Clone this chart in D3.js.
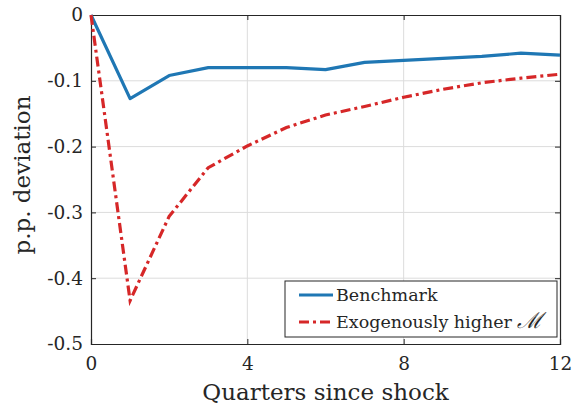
<!DOCTYPE html>
<html>
<head>
<meta charset="utf-8">
<script src="https://cdn.jsdelivr.net/npm/d3@7"></script>
<style>
  html, body { margin: 0; padding: 0; background: #fff; }
  svg { display: block; }
  text { font-family: "DejaVu Serif", serif; fill: #262626; }
</style>
</head>
<body>
<svg id="chart" width="573" height="406"></svg>
<script>
// Impulse responses, in percentage points, by quarter since the shock
const quarters = [0, 1, 2, 3, 4, 5, 6, 7, 8, 9, 10, 11, 12];
const benchmark = [0, -0.127, -0.092, -0.080, -0.080, -0.080, -0.083, -0.072, -0.069, -0.066, -0.063, -0.058, -0.061];
const higherM = [0, -0.434, -0.306, -0.232, -0.199, -0.171, -0.152, -0.139, -0.125, -0.113, -0.103, -0.096, -0.090];
const xTicks = [0, 4, 8, 12];
const yTicks = [0, -0.1, -0.2, -0.3, -0.4, -0.5];
const seriesNames = ["Benchmark", "Exogenously higher "];
const mathSymbol = "\u2133";

const svg = d3.select("#chart");
const plotL = 91, plotR = 560, plotT = 15, plotB = 344;
const x = d3.scaleLinear().domain([0, 12]).range([plotL, plotR]);
const y = d3.scaleLinear().domain([-0.5, 0]).range([plotB, plotT]);
const axisColor = "#262626";
const blue = "#1f77b4", red = "#d62728";
const dashDot = "10,4,3,4";
const fmtY = d => d === 0 ? "0" : d.toFixed(1);

// grid
const grid = svg.append("g");
grid.selectAll("line.gx").data(xTicks.slice(1, -1)).join("line")
  .attr("x1", d => x(d)).attr("x2", d => x(d)).attr("y1", plotT).attr("y2", plotB)
  .attr("stroke", "#dcdcdc").attr("stroke-width", 1);
grid.selectAll("line.gy").data(yTicks.slice(1, -1)).join("line")
  .attr("y1", d => y(d)).attr("y2", d => y(d)).attr("x1", plotL).attr("x2", plotR)
  .attr("stroke", "#dcdcdc").attr("stroke-width", 1);

// axes (ticks inside, on all four sides)
const tl = 5;
const bAxis = d3.axisBottom(x).tickValues(xTicks).tickSize(-tl).tickPadding(tl + 8).tickFormat(d3.format("d"));
const tAxis = d3.axisTop(x).tickValues(xTicks).tickSize(-tl).tickFormat("");
const lAxis = d3.axisLeft(y).tickValues(yTicks).tickSize(-tl).tickPadding(tl + 3).tickFormat(fmtY);
const rAxis = d3.axisRight(y).tickValues(yTicks).tickSize(-tl).tickFormat("");

function styleAxis(g) {
  g.attr("font-family", null);
  g.select(".domain").attr("stroke", axisColor).attr("stroke-width", 1.2);
  g.selectAll(".tick line").attr("stroke", axisColor).attr("stroke-width", 1);
  g.selectAll(".tick text").attr("font-size", 18.5).attr("fill", axisColor);
}
svg.append("g").attr("transform", `translate(0,${plotB})`).call(bAxis).call(styleAxis);
svg.append("g").attr("transform", `translate(0,${plotT})`).call(tAxis).call(styleAxis);
svg.append("g").attr("transform", `translate(${plotL},0)`).call(lAxis).call(styleAxis);
svg.append("g").attr("transform", `translate(${plotR},0)`).call(rAxis).call(styleAxis);

// series
const line = d3.line().x((d, i) => x(quarters[i])).y(d => y(d));
svg.append("path").datum(benchmark).attr("d", line)
  .attr("fill", "none").attr("stroke", blue).attr("stroke-width", 3.2).attr("stroke-linejoin", "round");
svg.append("path").datum(higherM).attr("d", line)
  .attr("fill", "none").attr("stroke", red).attr("stroke-width", 3.2)
  .attr("stroke-dasharray", dashDot);

// axis labels
svg.append("text").attr("x", (plotL + plotR) / 2).attr("y", 400).attr("text-anchor", "middle")
  .attr("font-size", 23).text("Quarters since shock");
svg.append("text").attr("transform", `translate(30,175) rotate(-90)`)
  .attr("text-anchor", "middle").attr("font-size", 23).text("p.p. deviation");

// legend
const lg = svg.append("g");
lg.append("rect").attr("x", 285).attr("y", 281).attr("width", 272).attr("height", 56)
  .attr("fill", "#fff").attr("stroke", axisColor).attr("stroke-width", 1);
const legendRows = [
  { name: seriesNames[0], sym: "", color: blue, dash: null, yy: 295 },
  { name: seriesNames[1], sym: mathSymbol, color: red, dash: dashDot, yy: 322 }
];
legendRows.forEach(r => {
  lg.append("line").attr("x1", 299).attr("x2", 333).attr("y1", r.yy).attr("y2", r.yy)
    .attr("stroke", r.color).attr("stroke-width", 3.2).attr("stroke-dasharray", r.dash);
  const t = lg.append("text").attr("x", 336).attr("y", r.yy).attr("dy", "0.35em")
    .attr("font-size", 17.5).text(r.name);
  if (r.sym) t.append("tspan").attr("font-size", 22).attr("font-style", "italic").text(r.sym);
});
</script>
</body>
</html>
